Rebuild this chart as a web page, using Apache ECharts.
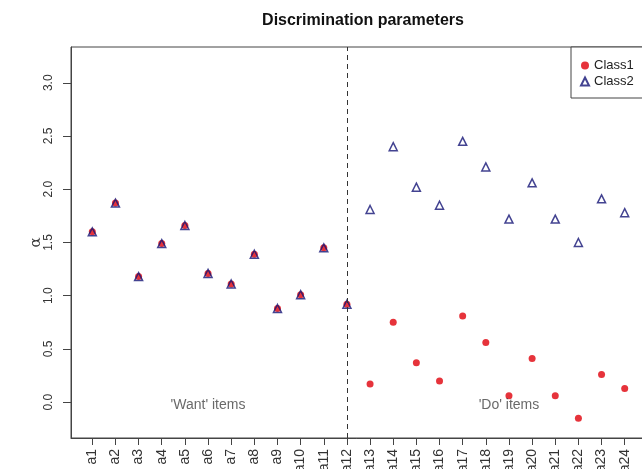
<!DOCTYPE html>
<html>
<head>
<meta charset="utf-8">
<script src="https://cdn.jsdelivr.net/npm/echarts@6/dist/echarts.min.js"></script>
<style>
  html, body { margin: 0; padding: 0; background: #fff; }
  #chart { width: 642px; height: 469px; }
</style>
</head>
<body>
<div id="chart"></div>
<script>
// item labels along the x axis
var items = ["a1","a2","a3","a4","a5","a6","a7","a8","a9","a10","a11","a12",
  "a13","a14","a15","a16","a17","a18","a19","a20","a21","a22","a23","a24"];
// discrimination parameter per item, per latent class
var class1 = [1.60, 1.87, 1.18, 1.49, 1.66, 1.21, 1.11, 1.39, 0.88, 1.01, 1.45, 0.92,
  0.17, 0.75, 0.37, 0.20, 0.81, 0.56, 0.06, 0.41, 0.06, -0.15, 0.26, 0.13];
var class2 = [1.60, 1.87, 1.18, 1.49, 1.66, 1.21, 1.11, 1.39, 0.88, 1.01, 1.45, 0.92,
  1.81, 2.40, 2.02, 1.85, 2.45, 2.21, 1.72, 2.06, 1.72, 1.50, 1.91, 1.78];
var yTicks = [0, 0.5, 1, 1.5, 2, 2.5, 3];
// group notes: [x, y, text]
var notes = [[6, 0, "'Want' items"], [19, 0, "'Do' items"]];
var splitAt = 12;

var xTicks = items.map(function (d, i) { return i + 1; });
var font = "Liberation Sans, Arial, sans-serif";

var chart = echarts.init(document.getElementById("chart"));
chart.setOption({
  animation: false,
  textStyle: { fontFamily: font },
  title: {
    text: "Discrimination parameters",
    left: 358, top: 8, textAlign: "center",
    textStyle: { fontSize: 16, fontWeight: "bold", color: "#111", fontFamily: font }
  },
  legend: {
    orient: "vertical",
    left: 571, top: 47,
    padding: [12, 30, 10, 9],
    itemGap: 3,
    itemWidth: 8, itemHeight: 8,
    borderColor: "#444", borderWidth: 1,
    backgroundColor: "#fff",
    textStyle: { fontSize: 13, color: "#222", fontFamily: font },
    data: [
      { name: "Class1", icon: "circle" },
      { name: "Class2", icon: "triangle" }
    ]
  },
  grid: {
    left: 71, top: 47, right: -4, bottom: 31,
    outerBoundsMode: "none",
    show: true, borderColor: "#444", borderWidth: 1
  },
  xAxis: {
    type: "value", min: 0.08, max: 24.92,
    splitLine: { show: false },
    axisLine: { onZero: false, lineStyle: { color: "#444" } },
    axisTick: { customValues: xTicks, length: 7, lineStyle: { color: "#444" } },
    axisLabel: {
      customValues: xTicks, rotate: 90, margin: 11,
      fontSize: 14, color: "#333",
      formatter: function (v) { return items[Math.round(v) - 1]; }
    }
  },
  yAxis: {
    type: "value", min: -0.336, max: 3.336,
    name: "α", nameLocation: "middle", nameRotate: 90, nameGap: 27,
    nameMoveOverlap: false,
    nameTextStyle: { fontSize: 15, color: "#333", fontFamily: "DejaVu Serif, serif" },
    splitLine: { show: false },
    axisLine: { onZero: false, lineStyle: { color: "#444" } },
    axisTick: { customValues: yTicks, length: 8, lineStyle: { color: "#444" } },
    axisLabel: {
      customValues: yTicks, rotate: 90, margin: 16,
      fontSize: 12, color: "#333",
      formatter: function (v) { return v.toFixed(1); }
    }
  },
  series: [
    {
      name: "Class1", type: "scatter",
      symbol: "circle", symbolSize: 7,
      itemStyle: { color: "#e0000a" },
      data: class1.map(function (v, i) { return [i + 1, v]; }),
      markLine: {
        silent: true, symbol: "none",
        label: { show: false },
        lineStyle: { color: "#333", type: [5, 4], width: 1 },
        data: [{ xAxis: splitAt }]
      }
    },
    {
      name: "Class2", type: "scatter",
      symbol: "triangle", symbolSize: 8,
      itemStyle: { color: "rgba(255,255,255,0)", borderColor: "#141475", borderWidth: 1.5 },
      data: class2.map(function (v, i) { return [i + 1, v]; })
    },
    {
      name: "notes", type: "scatter",
      symbolSize: 0, silent: true,
      label: {
        show: true, position: "inside", offset: [0, 3],
        fontSize: 14, color: "#444",
        formatter: function (p) { return p.data[2]; }
      },
      data: notes
    }
  ]
});
</script>
</body>
</html>
